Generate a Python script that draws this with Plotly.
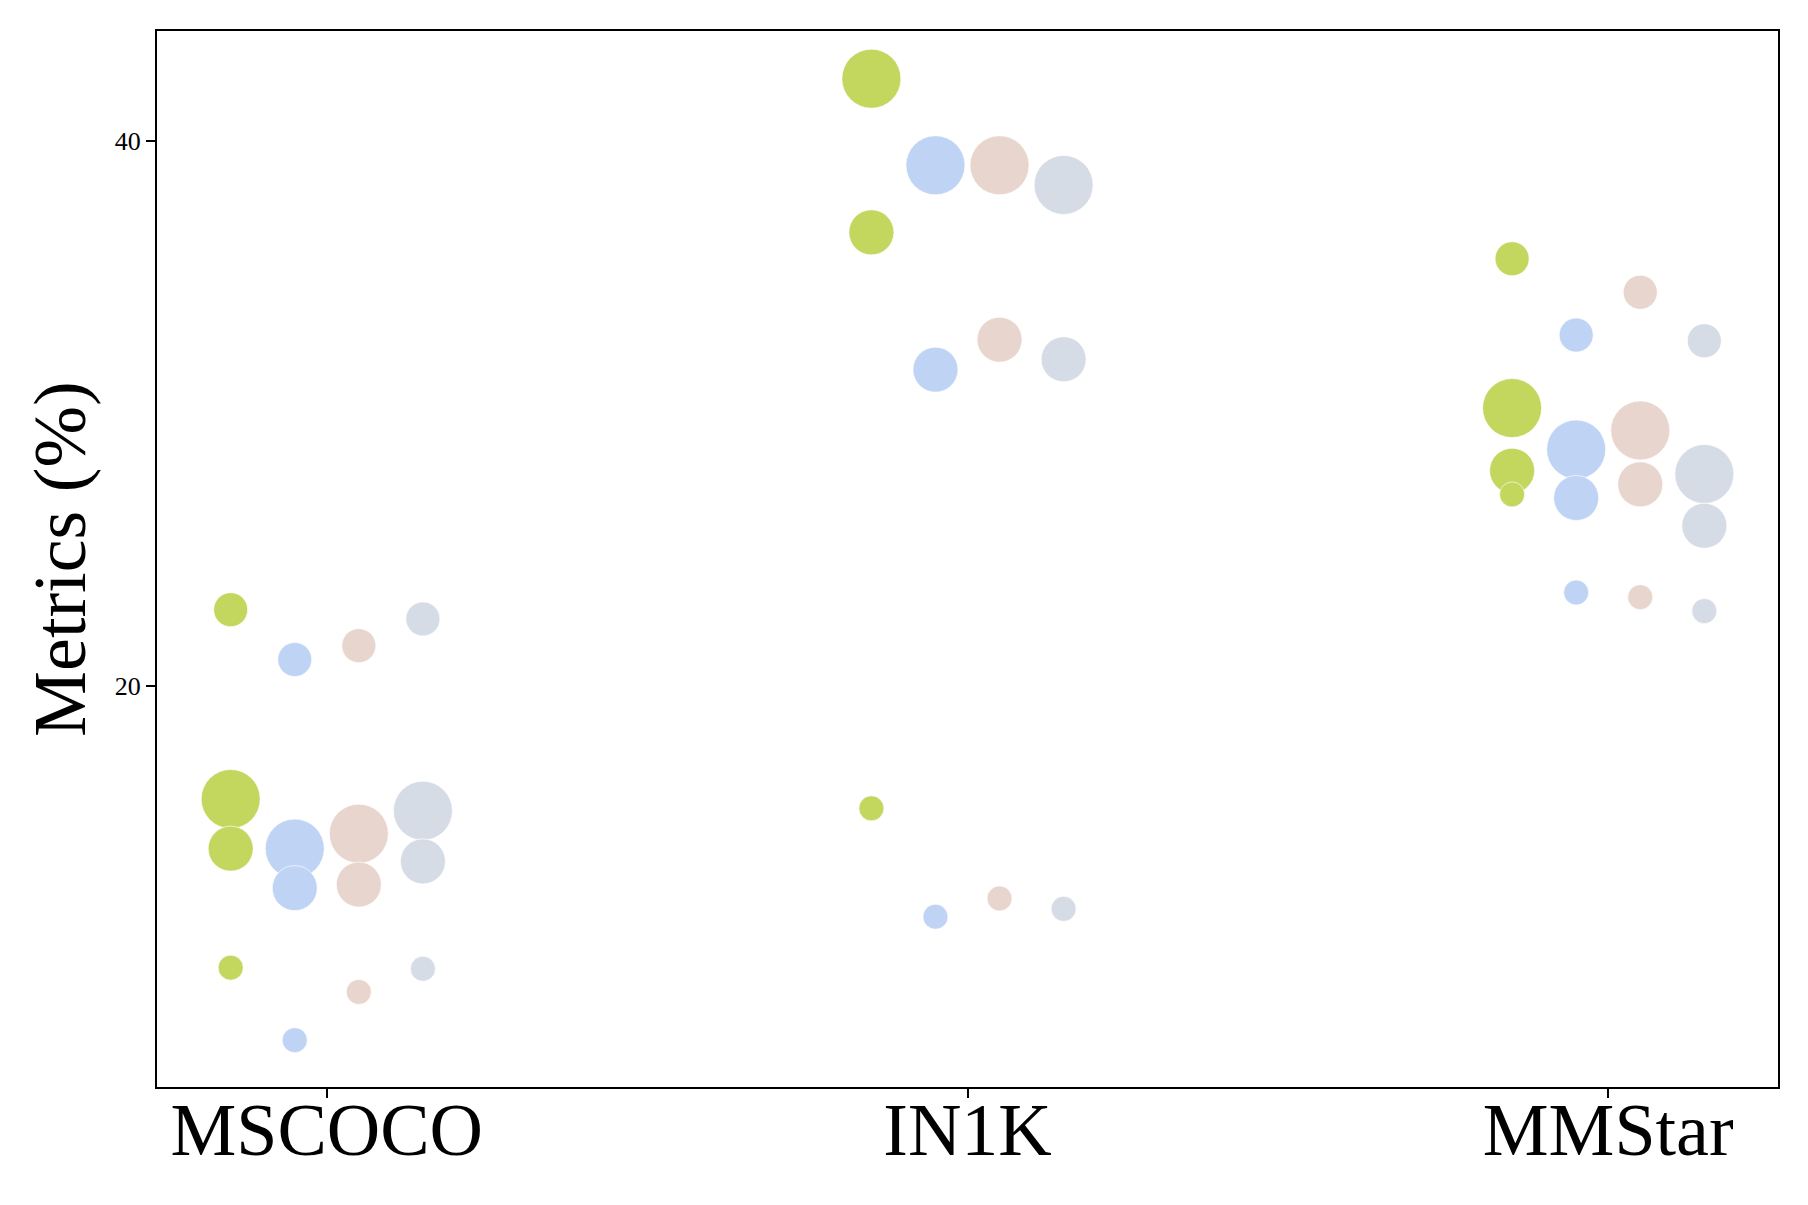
import plotly.graph_objects as go

# datasets on the x axis
categories = ["MSCOCO", "IN1K", "MMStar"]

# four model sizes (smallest -> largest), one value per dataset each
size_labels = ["S", "M", "L", "XL"]

# values per series: rows = dataset, columns = size
green_vals = [
    [9.66, 22.80, 14.03, 15.85],
    [15.51, None, 36.65, 42.29],
    [27.03, 35.68, 27.90, 30.20],
]
blue_vals = [
    [7.00, 20.97, 12.58, 14.03],
    [11.53, None, 31.61, 39.11],
    [23.43, 32.88, 26.90, 28.68],
]
pink_vals = [
    [8.77, 21.48, 12.71, 14.58],
    [12.20, None, 32.71, 39.11],
    [23.26, 34.45, 27.40, 29.38],
]
gray_vals = [
    [9.62, 22.46, 13.56, 15.42],
    [11.82, None, 31.99, 38.39],
    [22.75, 32.67, 25.88, 27.78],
]

series = [
    ("A", green_vals, "#C3D65E"),
    ("B", blue_vals, "#BFD3F5"),
    ("C", pink_vals, "#E8D5CD"),
    ("D", gray_vals, "#D5DCE6"),
]

# marker diameter per size label
marker_sizes = {"S": 25, "M": 34, "L": 45, "XL": 59}
offsets = [-0.15, -0.05, 0.05, 0.15]

fig = go.Figure()

for k, (name, vals, color) in enumerate(series):
    xs, ys, ss = [], [], []
    # draw larger markers first so smaller ones sit on top
    for j in reversed(range(len(size_labels))):
        for i in range(len(categories)):
            v = vals[i][j]
            if v is None:
                continue
            xs.append(i + offsets[k])
            ys.append(v)
            ss.append(marker_sizes[size_labels[j]])
    fig.add_trace(go.Scatter(
        x=xs,
        y=ys,
        mode="markers",
        name=name,
        marker=dict(size=ss, color=color, opacity=1,
                    line=dict(width=0.8, color="rgba(255,255,255,0.8)")),
        showlegend=False,
    ))

axis_common = dict(
    showline=True,
    linecolor="black",
    linewidth=2,
    mirror=True,
    showgrid=False,
    zeroline=False,
    ticks="outside",
    ticklen=9,
    tickwidth=1.5,
    tickcolor="black",
)

# page body has an 8px margin, so the figure is sized to fit inside it
fig.update_layout(
    width=1792,
    height=1189,
    template="plotly_white",
    plot_bgcolor="white",
    paper_bgcolor="white",
    font=dict(family="Liberation Serif, Times New Roman, serif", color="black"),
    margin=dict(l=149, r=22, t=23, b=110),
    xaxis=dict(
        **axis_common,
        range=[-0.265, 2.265],
        tickvals=list(range(len(categories))),
        ticktext=categories,
        tickfont=dict(size=74),
        ticklabelstandoff=-32,
    ),
    yaxis=dict(
        **axis_common,
        range=[5.28, 44.04],
        tickvals=[20, 40],
        tickfont=dict(size=26),
        title=dict(text="Metrics (%)", font=dict(size=74), standoff=5),
    ),
)

fig.write_html("out.html")
